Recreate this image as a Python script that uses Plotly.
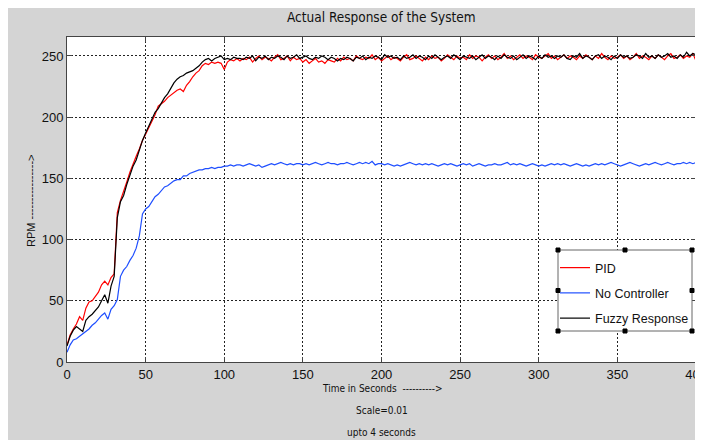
import plotly.graph_objects as go

# time axis (samples every 2 units of the x scale; scale = 0.01 s)
time = list(range(0, 401, 2))

# ---- PID response ----
pid_rise = [14, 22, 27, 31, 37, 34, 44, 49, 50, 54, 57, 63, 66, 63, 69, 72,
            122, 132, 139, 147, 155, 162, 168, 174, 181, 186, 191, 196, 202, 209,
            211, 213, 216, 218, 220, 222, 223, 221, 226, 229, 233, 236, 238, 242,
            244, 243, 245, 244, 245, 244, 239, 245, 247, 246, 248]
pid_steady = [246, 248, 247, 249, 245, 248, 250, 247, 249, 248,
              246, 249, 251, 247, 248, 250, 246, 249, 247, 248,
              245, 247, 244, 246, 248, 245, 246, 244, 247, 246,
              245, 248, 246, 249, 247, 248, 246, 250, 248, 247,
              249, 248, 251, 247, 249, 246, 248, 250, 247, 249,
              248, 246, 249, 251, 247, 248, 250, 248, 246, 249,
              247, 250, 248, 249, 246, 248, 251, 249, 247, 250,
              248, 249, 247, 251, 248, 250, 249, 246, 249, 251,
              248, 250, 247, 249, 252, 248, 250, 247, 249, 251,
              248, 250, 249, 247, 251, 249, 248, 250, 252, 248,
              250, 247, 249, 251, 248, 250, 249, 247, 250, 248,
              251, 249, 247, 250, 248, 252, 249, 247, 250, 248,
              249, 251, 248, 250, 247, 249, 252, 248, 250, 249,
              247, 250, 248, 251, 249, 247, 250, 252, 248, 249,
              251, 248, 250, 249, 252, 246]

# ---- No controller response ----
noctrl_rise = [8, 14, 18, 19, 21, 23, 25, 27, 30, 32, 35, 38, 40, 35, 43, 46,
               51, 70, 75, 78, 83, 87, 93, 103, 121, 125, 127, 131, 135, 137,
               140, 143, 144, 146, 148, 149, 149, 152, 152, 154, 155, 156, 157, 157,
               158, 158, 159, 158, 159, 159, 160, 160, 161, 160, 161]
noctrl_steady = [161, 160, 161, 162, 161, 160, 161, 159, 160, 161,
                 162, 161, 162, 163, 162, 161, 162, 161, 162, 162,
                 161, 162, 161, 162, 163, 162, 161, 162, 163, 162,
                 162, 161, 162, 162, 163, 162, 161, 162, 163, 162,
                 163, 162, 164, 161, 162, 162, 161, 162, 161, 160,
                 161, 160, 161, 162, 163, 162, 161, 162, 161, 162,
                 161, 162, 161, 160, 161, 162, 161, 162, 161, 160,
                 161, 162, 161, 162, 160, 161, 162, 161, 160, 161,
                 161, 162, 161, 161, 162, 163, 161, 162, 161, 162,
                 161, 160, 161, 162, 161, 160, 161, 160, 161, 162,
                 161, 162, 161, 162, 161, 160, 161, 162, 161, 160,
                 161, 160, 161, 162, 161, 162, 161, 162, 163, 162,
                 161, 160, 161, 162, 163, 162, 161, 160, 161, 162,
                 161, 162, 163, 162, 161, 162, 163, 162, 161, 162,
                 162, 163, 162, 163, 162, 163]

# ---- Fuzzy response ----
fuzzy_rise = [13, 21, 26, 29, 27, 25, 34, 37, 39, 42, 45, 50, 55, 48, 62, 70,
              118, 131, 136, 145, 152, 160, 165, 173, 181, 187, 193, 198, 204, 207,
              212, 216, 219, 224, 228, 231, 233, 234, 236, 237, 238, 240, 242, 245,
              247, 248, 246, 248, 249, 250, 247, 248, 247, 249, 248]
fuzzy_steady = [248, 247, 249, 248, 250, 246, 249, 248, 250, 247,
                249, 248, 250, 249, 247, 250, 248, 249, 251, 248,
                249, 250, 248, 247, 249, 248, 250, 249, 247, 249,
                248, 246, 248, 247, 249, 248, 246, 249, 248, 250,
                247, 249, 248, 250, 249, 247, 251, 249, 250, 248,
                249, 247, 250, 248, 249, 251, 248, 250, 249, 247,
                250, 248, 251, 249, 247, 249, 250, 248, 251, 249,
                247, 250, 249, 248, 250, 247, 249, 251, 248, 250,
                249, 247, 250, 248, 251, 249, 248, 250, 247, 249,
                251, 248, 250, 249, 247, 250, 248, 251, 249, 250,
                248, 250, 249, 251, 248, 247, 250, 249, 252, 248,
                250, 249, 247, 250, 251, 248, 250, 249, 247, 250,
                248, 251, 249, 250, 248, 249, 251, 250, 248, 252,
                249, 250, 248, 251, 249, 250, 252, 249, 250, 248,
                251, 249, 253, 250, 252, 251]

pid = pid_rise + pid_steady
no_controller = noctrl_rise + noctrl_steady
fuzzy = fuzzy_rise + fuzzy_steady

series_names = ["PID", "No Controller", "Fuzzy Response"]
x_ticks = [0, 50, 100, 150, 200, 250, 300, 350, 400]
y_ticks = [0, 50, 100, 150, 200, 250]

GRAY = "#d4d4d4"
NARROW = "Liberation Sans Narrow, DejaVu Sans Condensed, Arial Narrow, Liberation Sans, sans-serif"
ARIAL = "Liberation Sans, Arial, sans-serif"

fig = go.Figure()
for name, ys, col, grp in [(series_names[0], pid, "#ff0000", "a"),
                           (series_names[1], no_controller, "#1f4fff", "b"),
                           (series_names[2], fuzzy, "#000000", "c")]:
    fig.add_trace(go.Scatter(x=time, y=ys, mode="lines", name=name,
                             legendgroup=grp,
                             line=dict(color=col, width=1.2)))

# plot area in reference pixels: x 67..696, y 37..362
def px2x(px):
    return (px - 67) / 629.0

def py2y(py):
    return (362 - py) / 325.0

shapes = []
# legend box
lx0, lx1, ly0, ly1 = 558, 692, 250, 331
shapes.append(dict(type="rect", xref="paper", yref="paper", x0=px2x(lx0), x1=px2x(lx1),
                   y0=py2y(ly1), y1=py2y(ly0), fillcolor="white",
                   line=dict(color="#666666", width=1), layer="above"))
# selection handles
for hx in (lx0, (lx0 + lx1) / 2, lx1):
    for hy in (ly0, (ly0 + ly1) / 2, ly1):
        if hx == (lx0 + lx1) / 2 and hy == (ly0 + ly1) / 2:
            continue
        shapes.append(dict(type="rect", xref="paper", yref="paper",
                           xsizemode="pixel", ysizemode="pixel",
                           xanchor=px2x(hx), yanchor=py2y(hy),
                           x0=-2, x1=2, y0=-2, y1=2,
                           fillcolor="black", line=dict(color="black", width=1),
                           layer="above"))

annotations = [
    dict(text="Actual Response of the System", x=0.5, y=py2y(17), xref="paper", yref="paper",
         showarrow=False, font=dict(family=NARROW, size=13.5, color="#111"),
         xanchor="center", yanchor="middle"),
    dict(text="Time in Seconds  ---------->", x=0.5, y=py2y(388), xref="paper", yref="paper",
         showarrow=False, font=dict(family=NARROW, size=10, color="#111"),
         xanchor="center", yanchor="middle"),
    dict(text="Scale=0.01", x=0.5, y=py2y(410), xref="paper", yref="paper",
         showarrow=False, font=dict(family=NARROW, size=10, color="#111"),
         xanchor="center", yanchor="middle"),
    dict(text="upto 4 seconds", x=0.5, y=py2y(432), xref="paper", yref="paper",
         showarrow=False, font=dict(family=NARROW, size=10, color="#111"),
         xanchor="center", yanchor="middle"),
    dict(text="RPM ---------------->", x=px2x(31), y=py2y(201), xref="paper", yref="paper",
         showarrow=False, textangle=-90, font=dict(family=ARIAL, size=11, color="#111"),
         xanchor="center", yanchor="middle"),
]

axis_common = dict(showgrid=True, gridcolor="#222222", griddash="2px,2px", gridwidth=1,
                   zeroline=False, showline=True, linecolor="#444444", linewidth=1,
                   mirror="ticks", ticks="inside", ticklen=5, tickcolor="#444444",
                   ticklabeloverflow="allow", automargin=False,
                   tickfont=dict(family=ARIAL, size=13, color="#111"))

# The page body has an 8px white margin, which gives the white strip at the
# top and left of the reference; the figure fills the rest of the window.
fig.update_layout(
    autosize=False,
    width=695, height=432,
    margin=dict(l=59, r=7, t=29, b=78),
    paper_bgcolor=GRAY, plot_bgcolor="white",
    showlegend=True,
    legend=dict(x=px2x(lx0 - 3), y=py2y(ly0 + 3), xanchor="left", yanchor="top",
                bgcolor="rgba(0,0,0,0)", borderwidth=0,
                font=dict(family=ARIAL, size=12.5, color="#111"),
                itemwidth=30, traceorder="grouped", tracegroupgap=6),
    xaxis=dict(range=[0, 400], tickvals=x_ticks, **axis_common),
    yaxis=dict(range=[0, 265.5], tickvals=y_ticks, **axis_common),
    shapes=shapes, annotations=annotations,
)

fig.write_html("out.html", config={"responsive": False})
